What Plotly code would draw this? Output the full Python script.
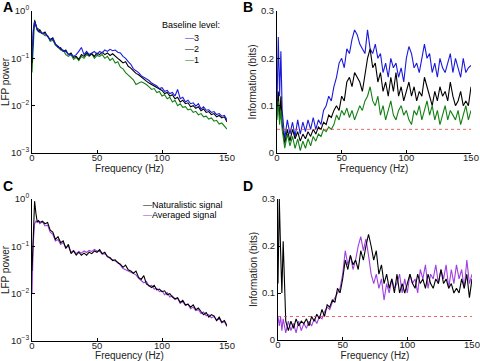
import plotly.graph_objects as go

# ---------------- data ----------------
freq = [0, 1, 2, 3, 4, 5, 6] + list(range(8, 151, 2))

# Panel A: LFP power by baseline level
a_level3 = [0.1, 0.4, 0.6, 0.45, 0.4, 0.38, 0.36, 0.34, 0.33, 0.3, 0.24, 0.26, 0.2, 0.17, 0.17, 0.14, 0.14, 0.12,
            0.12, 0.11, 0.12, 0.14, 0.17, 0.12, 0.14, 0.12, 0.13, 0.14, 0.12, 0.14, 0.13, 0.15, 0.14, 0.155, 0.145,
            0.15, 0.135, 0.13, 0.11, 0.10, 0.085, 0.075, 0.06, 0.055, 0.05, 0.043, 0.04, 0.036, 0.034, 0.03, 0.028,
            0.026, 0.023, 0.024, 0.02, 0.021, 0.018, 0.019, 0.016, 0.022, 0.014, 0.015, 0.012, 0.013, 0.011, 0.0115,
            0.0098, 0.011, 0.0085, 0.0095, 0.008, 0.0082, 0.0072, 0.0075, 0.0065, 0.0068, 0.006, 0.0062, 0.005]
a_level2 = [0.08, 0.35, 0.62, 0.48, 0.42, 0.36, 0.40, 0.33, 0.36, 0.29, 0.25, 0.27, 0.20, 0.18, 0.16, 0.14, 0.15,
            0.12, 0.13, 0.105, 0.11, 0.095, 0.12, 0.11, 0.13, 0.115, 0.125, 0.11, 0.13, 0.12, 0.135, 0.12, 0.13,
            0.115, 0.125, 0.11, 0.10, 0.09, 0.08, 0.085, 0.068, 0.062, 0.055, 0.048, 0.045, 0.04, 0.036, 0.033,
            0.030, 0.028, 0.026, 0.024, 0.022, 0.021, 0.018, 0.019, 0.016, 0.017, 0.014, 0.015, 0.012, 0.013, 0.011,
            0.0115, 0.0095, 0.010, 0.0088, 0.0095, 0.0078, 0.0085, 0.0072, 0.0075, 0.0065, 0.0068, 0.0058, 0.0062,
            0.0055, 0.0058, 0.0045]
a_level1 = [0.05, 0.3, 0.65, 0.5, 0.4, 0.42, 0.35, 0.34, 0.3, 0.3, 0.23, 0.24, 0.19, 0.17, 0.15, 0.15, 0.12, 0.11,
            0.12, 0.095, 0.105, 0.09, 0.11, 0.1, 0.12, 0.11, 0.125, 0.1, 0.115, 0.11, 0.12, 0.1, 0.11, 0.09, 0.1,
            0.08, 0.085, 0.065, 0.06, 0.05, 0.045, 0.04, 0.035, 0.028, 0.03, 0.032, 0.03, 0.028, 0.025, 0.022,
            0.023, 0.019, 0.02, 0.016, 0.017, 0.014, 0.015, 0.012, 0.013, 0.01, 0.011, 0.0092, 0.0095, 0.0082,
            0.0085, 0.0072, 0.0076, 0.0064, 0.0068, 0.0058, 0.006, 0.0052, 0.0055, 0.0047, 0.0049, 0.0041, 0.0043,
            0.0036, 0.0032]

# Panel B: information by baseline level
b_level3 = [0.10, 0.245, 0.12, 0.215, 0.09, 0.06, 0.03, 0.07, 0.04, 0.065, 0.035, 0.07, 0.04, 0.065, 0.045, 0.07,
            0.05, 0.075, 0.05, 0.07, 0.06, 0.09, 0.1, 0.12, 0.11, 0.14, 0.16, 0.19, 0.2, 0.18, 0.22, 0.21, 0.24,
            0.26, 0.25, 0.23, 0.22, 0.21, 0.26, 0.22, 0.21, 0.23, 0.2, 0.21, 0.17, 0.19, 0.16, 0.2, 0.18, 0.19, 0.16,
            0.18, 0.15, 0.2, 0.225, 0.21, 0.18, 0.19, 0.17, 0.2, 0.23, 0.2, 0.21, 0.17, 0.19, 0.16, 0.2, 0.18, 0.17,
            0.19, 0.21, 0.17, 0.2, 0.18, 0.16, 0.2, 0.17, 0.18, 0.185]
b_level2 = [0.08, 0.13, 0.07, 0.12, 0.06, 0.04, 0.02, 0.05, 0.025, 0.05, 0.03, 0.045, 0.025, 0.04, 0.03, 0.045,
            0.035, 0.05, 0.04, 0.055, 0.05, 0.065, 0.06, 0.08, 0.075, 0.09, 0.1, 0.09, 0.12, 0.11, 0.15, 0.16, 0.14,
            0.17, 0.16, 0.15, 0.13, 0.17, 0.2, 0.22, 0.18, 0.19, 0.15, 0.17, 0.13, 0.15, 0.12, 0.16, 0.13, 0.17,
            0.12, 0.14, 0.11, 0.13, 0.15, 0.12, 0.14, 0.11, 0.13, 0.12, 0.16, 0.14, 0.12, 0.1, 0.13, 0.11, 0.14,
            0.12, 0.13, 0.11, 0.15, 0.12, 0.1, 0.11, 0.13, 0.1, 0.11, 0.1, 0.14]
b_level1 = [0.07, 0.11, 0.06, 0.09, 0.05, 0.03, 0.01, 0.04, 0.015, 0.035, 0.01, 0.03, 0.005, 0.025, 0.01, 0.03,
            0.015, 0.035, 0.025, 0.04, 0.035, 0.05, 0.045, 0.055, 0.05, 0.06, 0.08, 0.07, 0.09, 0.08, 0.095, 0.075,
            0.09, 0.07, 0.085, 0.1, 0.09, 0.11, 0.12, 0.14, 0.11, 0.1, 0.12, 0.08, 0.1, 0.07, 0.09, 0.11, 0.08,
            0.07, 0.09, 0.1, 0.08, 0.09, 0.07, 0.06, 0.09, 0.08, 0.1, 0.07, 0.09, 0.11, 0.08, 0.1, 0.07, 0.09, 0.06,
            0.08, 0.1, 0.07, 0.09, 0.08, 0.07, 0.09, 0.06, 0.08, 0.1, 0.07, 0.09]

# Panel C: LFP power, naturalistic vs averaged
c_natural = [0.03, 0.3, 0.9, 0.5, 0.33, 0.35, 0.32, 0.34, 0.3, 0.32, 0.22, 0.2, 0.14, 0.16, 0.12, 0.13, 0.09,
             0.11, 0.07, 0.08, 0.065, 0.075, 0.065, 0.072, 0.065, 0.075, 0.07, 0.08, 0.075, 0.085, 0.07, 0.075,
             0.06, 0.058, 0.05, 0.052, 0.045, 0.042, 0.036, 0.04, 0.032, 0.03, 0.027, 0.03, 0.022, 0.02, 0.024,
             0.016, 0.015, 0.0135, 0.015, 0.012, 0.0125, 0.011, 0.0115, 0.0095, 0.010, 0.0085, 0.0078, 0.0082,
             0.0065, 0.0072, 0.0058, 0.006, 0.0052, 0.0058, 0.0046, 0.005, 0.0042, 0.0036, 0.004, 0.0032, 0.0036,
             0.0034, 0.0027, 0.0032, 0.0025, 0.0027, 0.0021]
c_averaged = [0.01, 0.12, 0.3, 0.34, 0.32, 0.34, 0.3, 0.33, 0.27, 0.28, 0.2, 0.18, 0.13, 0.14, 0.11, 0.12, 0.095,
              0.1, 0.075, 0.082, 0.07, 0.078, 0.072, 0.08, 0.074, 0.082, 0.078, 0.086, 0.08, 0.078, 0.068, 0.07,
              0.062, 0.055, 0.052, 0.048, 0.046, 0.04, 0.034, 0.032, 0.03, 0.028, 0.026, 0.025, 0.021, 0.019,
              0.017, 0.018, 0.0145, 0.015, 0.0125, 0.013, 0.011, 0.0115, 0.0095, 0.0105, 0.0085, 0.009, 0.0075,
              0.008, 0.0062, 0.0068, 0.0056, 0.006, 0.0048, 0.0052, 0.0044, 0.0046, 0.0038, 0.0041, 0.0034,
              0.0036, 0.0031, 0.0033, 0.0027, 0.003, 0.0024, 0.0026, 0.002]

# Panel D: information, naturalistic vs averaged
d_natural = [0.12, 0.3, 0.19, 0.1, 0.21, 0.12, 0.04, 0.02, 0.04, 0.025, 0.045, 0.03, 0.04, 0.035, 0.045, 0.03,
             0.05, 0.04, 0.055, 0.045, 0.065, 0.05, 0.075, 0.07, 0.085, 0.08, 0.11, 0.1, 0.13, 0.17, 0.15, 0.18,
             0.16, 0.17, 0.15, 0.19, 0.17, 0.2, 0.225, 0.2, 0.17, 0.19, 0.14, 0.16, 0.12, 0.14, 0.11, 0.13, 0.1,
             0.14, 0.1, 0.12, 0.1, 0.12, 0.14, 0.12, 0.11, 0.14, 0.12, 0.13, 0.11, 0.14, 0.12, 0.11, 0.13, 0.12,
             0.15, 0.12, 0.13, 0.11, 0.12, 0.1, 0.11, 0.1, 0.13, 0.11, 0.14, 0.09, 0.13]
d_averaged = [0.05, 0.03, 0.05, 0.02, 0.045, 0.03, 0.015, 0.04, 0.02, 0.035, 0.015, 0.04, 0.02, 0.035, 0.025,
              0.04, 0.03, 0.045, 0.035, 0.05, 0.045, 0.06, 0.07, 0.065, 0.08, 0.09, 0.1, 0.11, 0.14, 0.19, 0.16,
              0.18, 0.15, 0.17, 0.2, 0.22, 0.19, 0.215, 0.18, 0.14, 0.12, 0.14, 0.11, 0.13, 0.085, 0.12, 0.1, 0.13,
              0.11, 0.12, 0.14, 0.1, 0.13, 0.1, 0.14, 0.12, 0.13, 0.1, 0.15, 0.13, 0.16, 0.11, 0.14, 0.13, 0.16,
              0.12, 0.15, 0.13, 0.16, 0.11, 0.15, 0.12, 0.16, 0.13, 0.15, 0.11, 0.17, 0.12, 0.14]

threshold = 0.05
x_ticks = [0, 50, 100, 150]
log_ticks = [1, 0.1, 0.01, 0.001]
log_labels = ["10<sup>0</sup>", "10<sup>−1</sup>", "10<sup>−2</sup>", "10<sup>−3</sup>"]
info_ticks = [0, 0.1, 0.2, 0.3]
info_labels = ["0", "0.1", "0.2", "0.3"]

BLUE = "#1a1adc"
BLACK = "#000000"
GREEN = "#128012"
PURPLE = "#a040e0"
RED = "#e04040"

W, H = 480, 361
FONT = "Liberation Sans, Arial, sans-serif"

fig = go.Figure()


def line(x, y, color, xa, ya, width=1.1, dash=None):
    fig.add_trace(go.Scatter(x=x, y=y, mode="lines", xaxis=xa, yaxis=ya, showlegend=False,
                             hoverinfo="skip",
                             line=dict(color=color, width=width, dash=dash)))


# Panel A
line(freq, a_level1, GREEN, "x", "y")
line(freq, a_level2, BLACK, "x", "y")
line(freq, a_level3, BLUE, "x", "y")
# Panel B
line(freq, b_level3, BLUE, "x2", "y2")
line(freq, b_level2, BLACK, "x2", "y2")
line(freq, b_level1, GREEN, "x2", "y2")
line([freq[0], freq[-1]], [threshold, threshold], RED, "x2", "y2", width=0.8, dash="dot")
# Panel C
line(freq, c_averaged, PURPLE, "x3", "y3")
line(freq, c_natural, BLACK, "x3", "y3")
# Panel D
line(freq, d_averaged, PURPLE, "x4", "y4")
line(freq, d_natural, BLACK, "x4", "y4")
line([freq[0], freq[-1]], [threshold, threshold], RED, "x4", "y4", width=0.8, dash="dot")


def px_x(a, b):
    return [a / W, b / W]


def px_y(top, bottom):
    return [1 - bottom / H, 1 - top / H]


axis_common = dict(showline=True, linecolor="black", linewidth=1, ticks="inside", ticklen=3,
                   tickcolor="black", showgrid=False, zeroline=False, mirror=False, automargin=False,
                   tickfont=dict(size=9.5, color="#222", family=FONT))

xcommon = dict(axis_common, range=[0, 150], tickvals=x_ticks, ticklabelstandoff=-4,
               title=dict(text="Frequency (Hz)", font=dict(size=10, color="#222", family=FONT), standoff=0))

fig.update_layout(
    width=W, height=H, margin=dict(l=0, r=0, t=0, b=0),
    paper_bgcolor="white", plot_bgcolor="white",
    font=dict(family=FONT, size=10, color="#222"),
    xaxis=dict(xcommon, domain=px_x(32, 227), anchor="y"),
    yaxis=dict(axis_common, domain=px_y(11, 153), anchor="x", type="log", range=[-3, 0],
               tickvals=log_ticks, ticktext=log_labels,
               title=dict(text="LFP power", font=dict(size=10, family=FONT), standoff=2)),
    xaxis2=dict(xcommon, domain=px_x(277, 471), anchor="y2"),
    yaxis2=dict(axis_common, domain=px_y(11, 153), anchor="x2", range=[0, 0.3],
                tickvals=info_ticks, ticktext=info_labels,
                title=dict(text="Information (bits)", font=dict(size=10, family=FONT), standoff=2)),
    xaxis3=dict(xcommon, domain=px_x(32, 227), anchor="y3"),
    yaxis3=dict(axis_common, domain=px_y(199, 341), anchor="x3", type="log", range=[-3, 0],
                tickvals=log_ticks, ticktext=log_labels,
                title=dict(text="LFP power", font=dict(size=10, family=FONT), standoff=2)),
    xaxis4=dict(xcommon, domain=px_x(278, 472), anchor="y4"),
    yaxis4=dict(axis_common, domain=px_y(199, 340), anchor="x4", range=[0, 0.3],
                tickvals=info_ticks, ticktext=info_labels,
                title=dict(text="Information (bits)", font=dict(size=10, family=FONT), standoff=2)),
)

annotations = []


def label(text, x, y, size=10, bold=False, xanchor="left"):
    annotations.append(dict(text=("<b>%s</b>" % text) if bold else text, x=x / W, y=1 - y / H,
                            xref="paper", yref="paper", xanchor=xanchor, yanchor="middle",
                            showarrow=False, font=dict(size=size, color="black", family=FONT)))


label("A", 1, 7, size=14, bold=True)
label("B", 241, 7, size=14, bold=True)
label("C", 1, 186, size=14, bold=True)
label("D", 241, 186, size=14, bold=True)

# legend A
label("Baseline level:", 191, 25, size=9, xanchor="center")
label("<span style='color:%s'>—</span>3" % BLUE, 183, 38, size=9)
label("<span style='color:%s'>—</span>2" % BLACK, 183, 49, size=9)
label("<span style='color:%s'>—</span>1" % GREEN, 183, 60, size=9)
# legend C
label("<span style='color:%s'>—</span>Naturalistic signal" % BLACK, 141, 205, size=9)
label("<span style='color:%s'>—</span>Averaged signal" % PURPLE, 141, 215, size=9)

fig.update_layout(annotations=annotations)

fig.write_html("out.html", config={"displayModeBar": False},
               post_script="document.body.style.margin='0';")
